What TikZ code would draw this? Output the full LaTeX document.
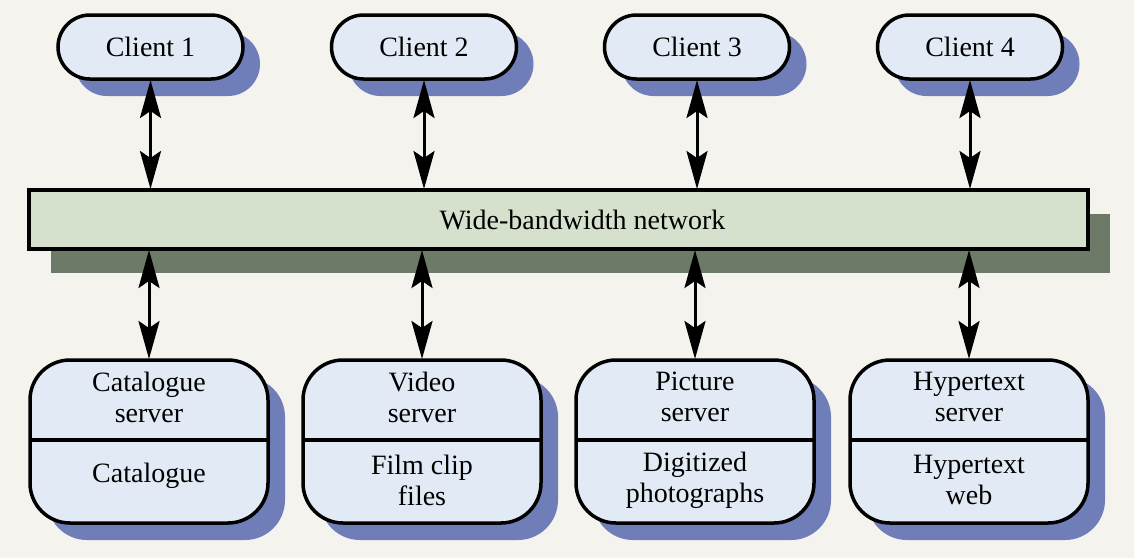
\documentclass[tikz,border=0pt]{standalone}
\usepackage{fontspec}
\setmainfont{Liberation Serif}
\usetikzlibrary{arrows.meta}
\definecolor{bg}{HTML}{F5F3EE}
\definecolor{boxfill}{HTML}{E2EBF5}
\definecolor{boxshadow}{HTML}{6F7EB9}
\definecolor{netfill}{HTML}{D6E1CD}
\definecolor{netshadow}{HTML}{6E7A68}
\tikzset{
  every node/.style={font=\fontsize{28}{31}\selectfont, inner sep=0pt, outer sep=0pt},
  client/.style={draw=black, line width=3.5pt, fill=boxfill, minimum width=185pt, minimum height=64pt, rounded corners=32pt},
  clientshadow/.style={fill=boxshadow, minimum width=185pt, minimum height=64pt, rounded corners=32pt},
  server/.style={draw=black, line width=3.5pt, fill=boxfill, minimum width=238pt, minimum height=163pt, rounded corners=40pt},
  servershadow/.style={fill=boxshadow, minimum width=238pt, minimum height=163pt, rounded corners=40pt},
  net/.style={draw=black, line width=3.5pt, fill=netfill, minimum width=1059pt, minimum height=59pt},
  netsh/.style={fill=netshadow, minimum width=1059pt, minimum height=59pt},
  dbl/.style={line width=3pt, {Stealth[length=38pt,width=21pt,inset=7pt]}-{Stealth[length=38pt,width=21pt,inset=7pt]}, shorten <=1pt, shorten >=1pt},
  txt/.style={align=center}
}
\begin{document}
\begin{tikzpicture}[x=1pt,y=-1pt]
\fill[bg] (0,0) rectangle (1134,558);
\useasboundingbox (0,0) rectangle (1134,558);
% network bar
\node[netsh] (netshadow) at (580.5,243.5) {};
\node[net] (net) at (558.5,219.5) {};
\node[xshift=24pt] at (net.center) {Wide-bandwidth network};
% clients
\foreach \i/\x in {1/150.5,2/424,3/697,4/970}{
  \node[clientshadow] (cs\i) at (\x+17,64) {};
  \node[client] (c\i) at (\x,47) {};
  \node at (c\i.center) {Client \i};
}
% servers
\foreach \i/\x in {1/149,2/422,3/695,4/969}{
  \node[servershadow] (ss\i) at (\x+17,458.5) {};
  \node[server] (s\i) at (\x,441.5) {};
  \coordinate (dl\i) at (\x-119,440);
  \coordinate (dr\i) at (\x+119,440);
  \draw[line width=3.5pt] (dl\i) -- (dr\i);
}
\node[txt] at (149,397) {Catalogue\\server};
\node[txt] at (149,476) {Catalogue};
\node[txt] at (422,397) {Video\\server};
\node[txt] at (422,480) {Film clip\\files};
\node[txt] at (695,397) {Picture\\server};
\node[txt] at (695,480) {Digitized\\photographs};
\node[txt] at (969,397) {Hypertext\\server};
\node[txt] at (969,480) {Hypertext\\web};
% arrows
\foreach \i in {1,2,3,4}{
  \draw[dbl] (c\i.south) -- (c\i.south |- net.north);
  \draw[dbl] (s\i.north |- net.south) -- (s\i.north);
}
\end{tikzpicture}
\end{document}
